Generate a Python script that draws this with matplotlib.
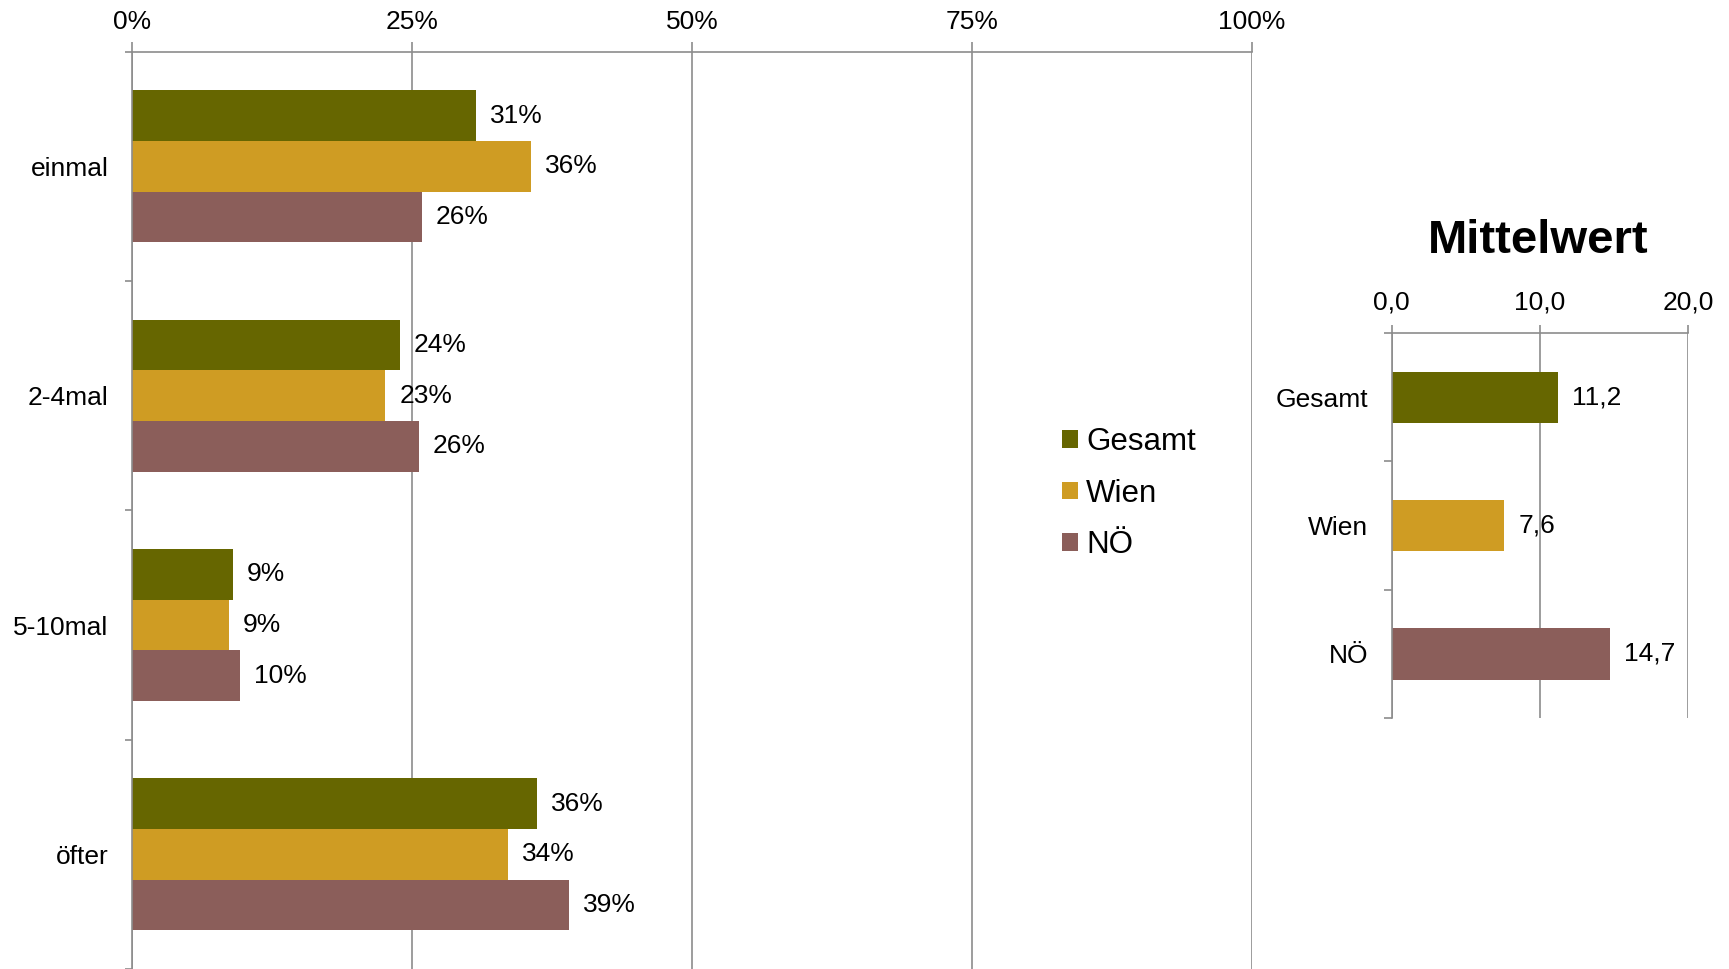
import matplotlib.pyplot as plt
import numpy as np

plt.rcParams['font.family'] = ['Liberation Sans', 'DejaVu Sans']

# Häufigkeit (Anteile in %) je Gruppe
kategorien = ["einmal", "2-4mal", "5-10mal", "öfter"]
gruppen = ["Gesamt", "Wien", "NÖ"]
gesamt = [30.7, 23.9, 9.0, 36.2]
wien = [35.6, 22.6, 8.6, 33.6]
noe = [25.9, 25.6, 9.6, 39.0]

# Mittelwerte je Gruppe
mittelwert = [11.2, 7.6, 14.7]

farben = ["#666600", "#CF9C23", "#8B5E5A"]
grau = "#8C8C8C"

fig = plt.figure(figsize=(17.29, 9.69), dpi=100)

# linkes Diagramm: Anteile
ax = fig.add_axes([0.0765, 0.0, 0.6474, 0.9465])
y = np.arange(len(kategorien))
h = 0.221
for i, (werte, name) in enumerate(zip([gesamt, wien, noe], gruppen)):
    bars = ax.barh(y + (i - 1) * h, werte, height=h, color=farben[i], label=name)
    ax.bar_label(bars, labels=[f"{v:.0f}%" for v in werte], padding=10, fontsize=19)

ax.set_xlim(0, 100)
ax.set_ylim(len(kategorien) - 0.5, -0.5)
ax.xaxis.tick_top()
ax.set_xticks([0, 25, 50, 75, 100])
ax.set_xticklabels(["0%", "25%", "50%", "75%", "100%"], fontsize=19)
ax.set_yticks(y)
ax.set_yticklabels(kategorien, fontsize=19)
ax.set_yticks(np.arange(-0.5, len(kategorien)), minor=True)
ax.tick_params(axis="y", which="major", length=0, pad=17)
ax.tick_params(axis="y", which="minor", length=5, width=1.2, color=grau, direction="out")
ax.tick_params(axis="x", length=7, width=1.2, color=grau, pad=6)
ax.grid(axis="x", color=grau, linewidth=1.2)
ax.set_axisbelow(True)
for s in ["right", "bottom"]:
    ax.spines[s].set_visible(False)
for s in ["top", "left"]:
    ax.spines[s].set_color(grau)
    ax.spines[s].set_linewidth(1.2)

fig.legend(loc="center left", bbox_to_anchor=(0.6145, 0.4907), frameon=False,
           fontsize=22.5, handlelength=0.5, handleheight=0.5, handletextpad=0.25,
           labelspacing=0.68, borderpad=0, borderaxespad=0)

# rechtes Diagramm: Mittelwert
ax2 = fig.add_axes([0.8049, 0.259, 0.1715, 0.3973])
y2 = np.arange(len(gruppen))
bars2 = ax2.barh(y2, mittelwert, height=0.4, color=farben)
ax2.bar_label(bars2, labels=[f"{v:.1f}".replace(".", ",") for v in mittelwert],
              padding=10, fontsize=19)
ax2.set_xlim(0, 20)
ax2.set_ylim(len(gruppen) - 0.5, -0.5)
ax2.xaxis.tick_top()
ax2.set_xticks([0, 10, 20])
ax2.set_xticklabels(["0,0", "10,0", "20,0"], fontsize=19)
ax2.set_yticks(y2)
ax2.set_yticklabels(gruppen, fontsize=19)
ax2.set_yticks(np.arange(-0.5, len(gruppen)), minor=True)
ax2.tick_params(axis="y", which="major", length=0, pad=17)
ax2.tick_params(axis="y", which="minor", length=6, width=1.2, color=grau, direction="out")
ax2.tick_params(axis="x", length=6, width=1.2, color=grau, pad=7)
ax2.grid(axis="x", color=grau, linewidth=1.2)
ax2.set_axisbelow(True)
for s in ["right", "bottom"]:
    ax2.spines[s].set_visible(False)
for s in ["top", "left"]:
    ax2.spines[s].set_color(grau)
    ax2.spines[s].set_linewidth(1.2)

fig.text(0.8895, 0.7394, "Mittelwert", fontsize=34, fontweight="bold",
         ha="center", va="baseline")

fig.savefig("out.png", dpi=100)
